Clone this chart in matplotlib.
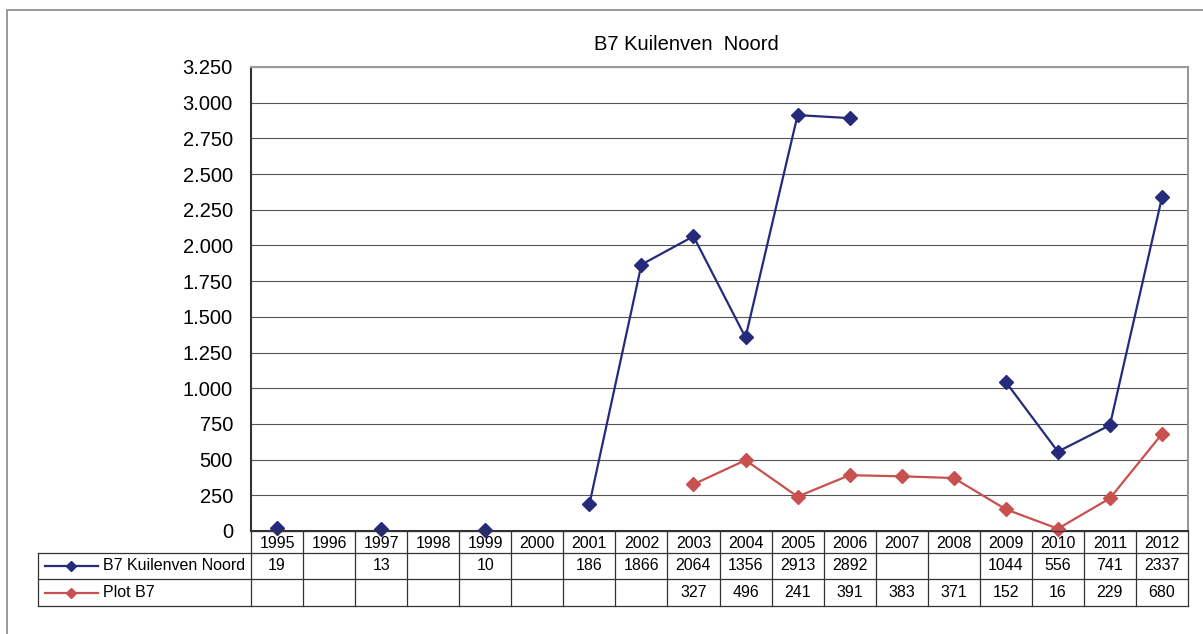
import numpy as np
import matplotlib.pyplot as plt
from matplotlib.patches import Rectangle

plt.rcParams['font.family'] = ['Liberation Sans', 'DejaVu Sans']

# === Data ===
years = [str(y) for y in range(1995, 2013)]
kuilenven = [19, np.nan, 13, np.nan, 10, np.nan, 186, 1866, 2064, 1356, 2913, 2892,
             np.nan, np.nan, 1044, 556, 741, 2337]
plot_b7 = [np.nan] * 8 + [327, 496, 241, 391, 383, 371, 152, 16, 229, 680]
series_names = ["B7 Kuilenven Noord", "Plot B7"]
title = "B7 Kuilenven  Noord"

blue = "#262A7A"
red = "#C8504E"
colors = [blue, red]

W, H = 1203, 634
fig = plt.figure(figsize=(W / 100, H / 100), dpi=100)

# outer border
fig.patches.append(Rectangle((7 / W, -0.1), 1.2, 1 - 10 / H + 0.1, transform=fig.transFigure,
                             fill=False, edgecolor="#888888", linewidth=1.2))

# === Main axes ===
x0, x1 = 251, 1188
ytop, ybot = 67, 531
ax = fig.add_axes([x0 / W, 1 - ybot / H, (x1 - x0) / W, (ybot - ytop) / H])
x = np.arange(len(years))
for vals, c in zip([kuilenven, plot_b7], colors):
    ax.plot(x, vals, color=c, linewidth=1.6, marker="D", markersize=7.5, zorder=3,
            clip_on=False)

ax.set_xlim(-0.5, len(years) - 0.5)
ax.set_ylim(0, 3250)
ticks = np.arange(0, 3251, 250)
ax.set_yticks(ticks)
ax.set_yticklabels([f"{t:,}".replace(",", ".") for t in ticks], fontsize=14.5)
ax.set_xticks([])
ax.tick_params(axis="y", length=0, pad=13)
ax.grid(axis="y", color="#555555", linewidth=0.8)
ax.set_axisbelow(True)
for s in ["top", "right"]:
    ax.spines[s].set_color("#999999")
    ax.spines[s].set_linewidth(1.5)
for s in ["left", "bottom"]:
    ax.spines[s].set_color("#333333")
    ax.spines[s].set_linewidth(1.5)

fig.text(686 / W, 1 - 45 / H, title, ha="center", va="center", fontsize=14.5)

# === Data table ===
tl, tb = 38, 606
tax = fig.add_axes([tl / W, 1 - tb / H, (x1 - tl) / W, (tb - ybot) / H])
colw = (x1 - x0) / len(years)
left_ext = -0.5 - (x0 - tl) / colw
tax.set_xlim(left_ext, len(years) - 0.5)
tax.set_ylim(tb - ybot, 0)
tax.axis("off")
rows = [0, 22, 48, 75]
lc = "#333333"
lw = 0.9
# horizontal lines
tax.plot([-0.5, len(years) - 0.5], [rows[0]] * 2, color=lc, lw=lw, clip_on=False)
for r in rows[1:]:
    tax.plot([left_ext, len(years) - 0.5], [r, r], color=lc, lw=lw, clip_on=False)
# vertical lines
for i in range(len(years) + 1):
    tax.plot([i - 0.5, i - 0.5], [rows[0], rows[3]], color=lc, lw=lw, clip_on=False)
tax.plot([left_ext, left_ext], [rows[1], rows[3]], color=lc, lw=lw, clip_on=False)

for i, yr in enumerate(years):
    tax.text(i, (rows[0] + rows[1]) / 2 + 1, yr, ha="center", va="center", fontsize=11.5)

px = 1 / colw  # one pixel in table x units
for k, (name, vals, c) in enumerate(zip(series_names, [kuilenven, plot_b7], colors)):
    yc = (rows[k + 1] + rows[k + 2]) / 2
    tax.plot([left_ext + 7 * px, left_ext + 60 * px], [yc, yc], color=c, lw=1.6)
    tax.plot([left_ext + 33 * px], [yc], marker="D", color=c, markersize=5)
    tax.text(left_ext + 65 * px, yc, name, ha="left", va="center", fontsize=11.5)
    for i, v in enumerate(vals):
        if not np.isnan(v):
            tax.text(i, yc, f"{int(v)}", ha="center", va="center", fontsize=11.5)

fig.savefig("out.png", dpi=100)
